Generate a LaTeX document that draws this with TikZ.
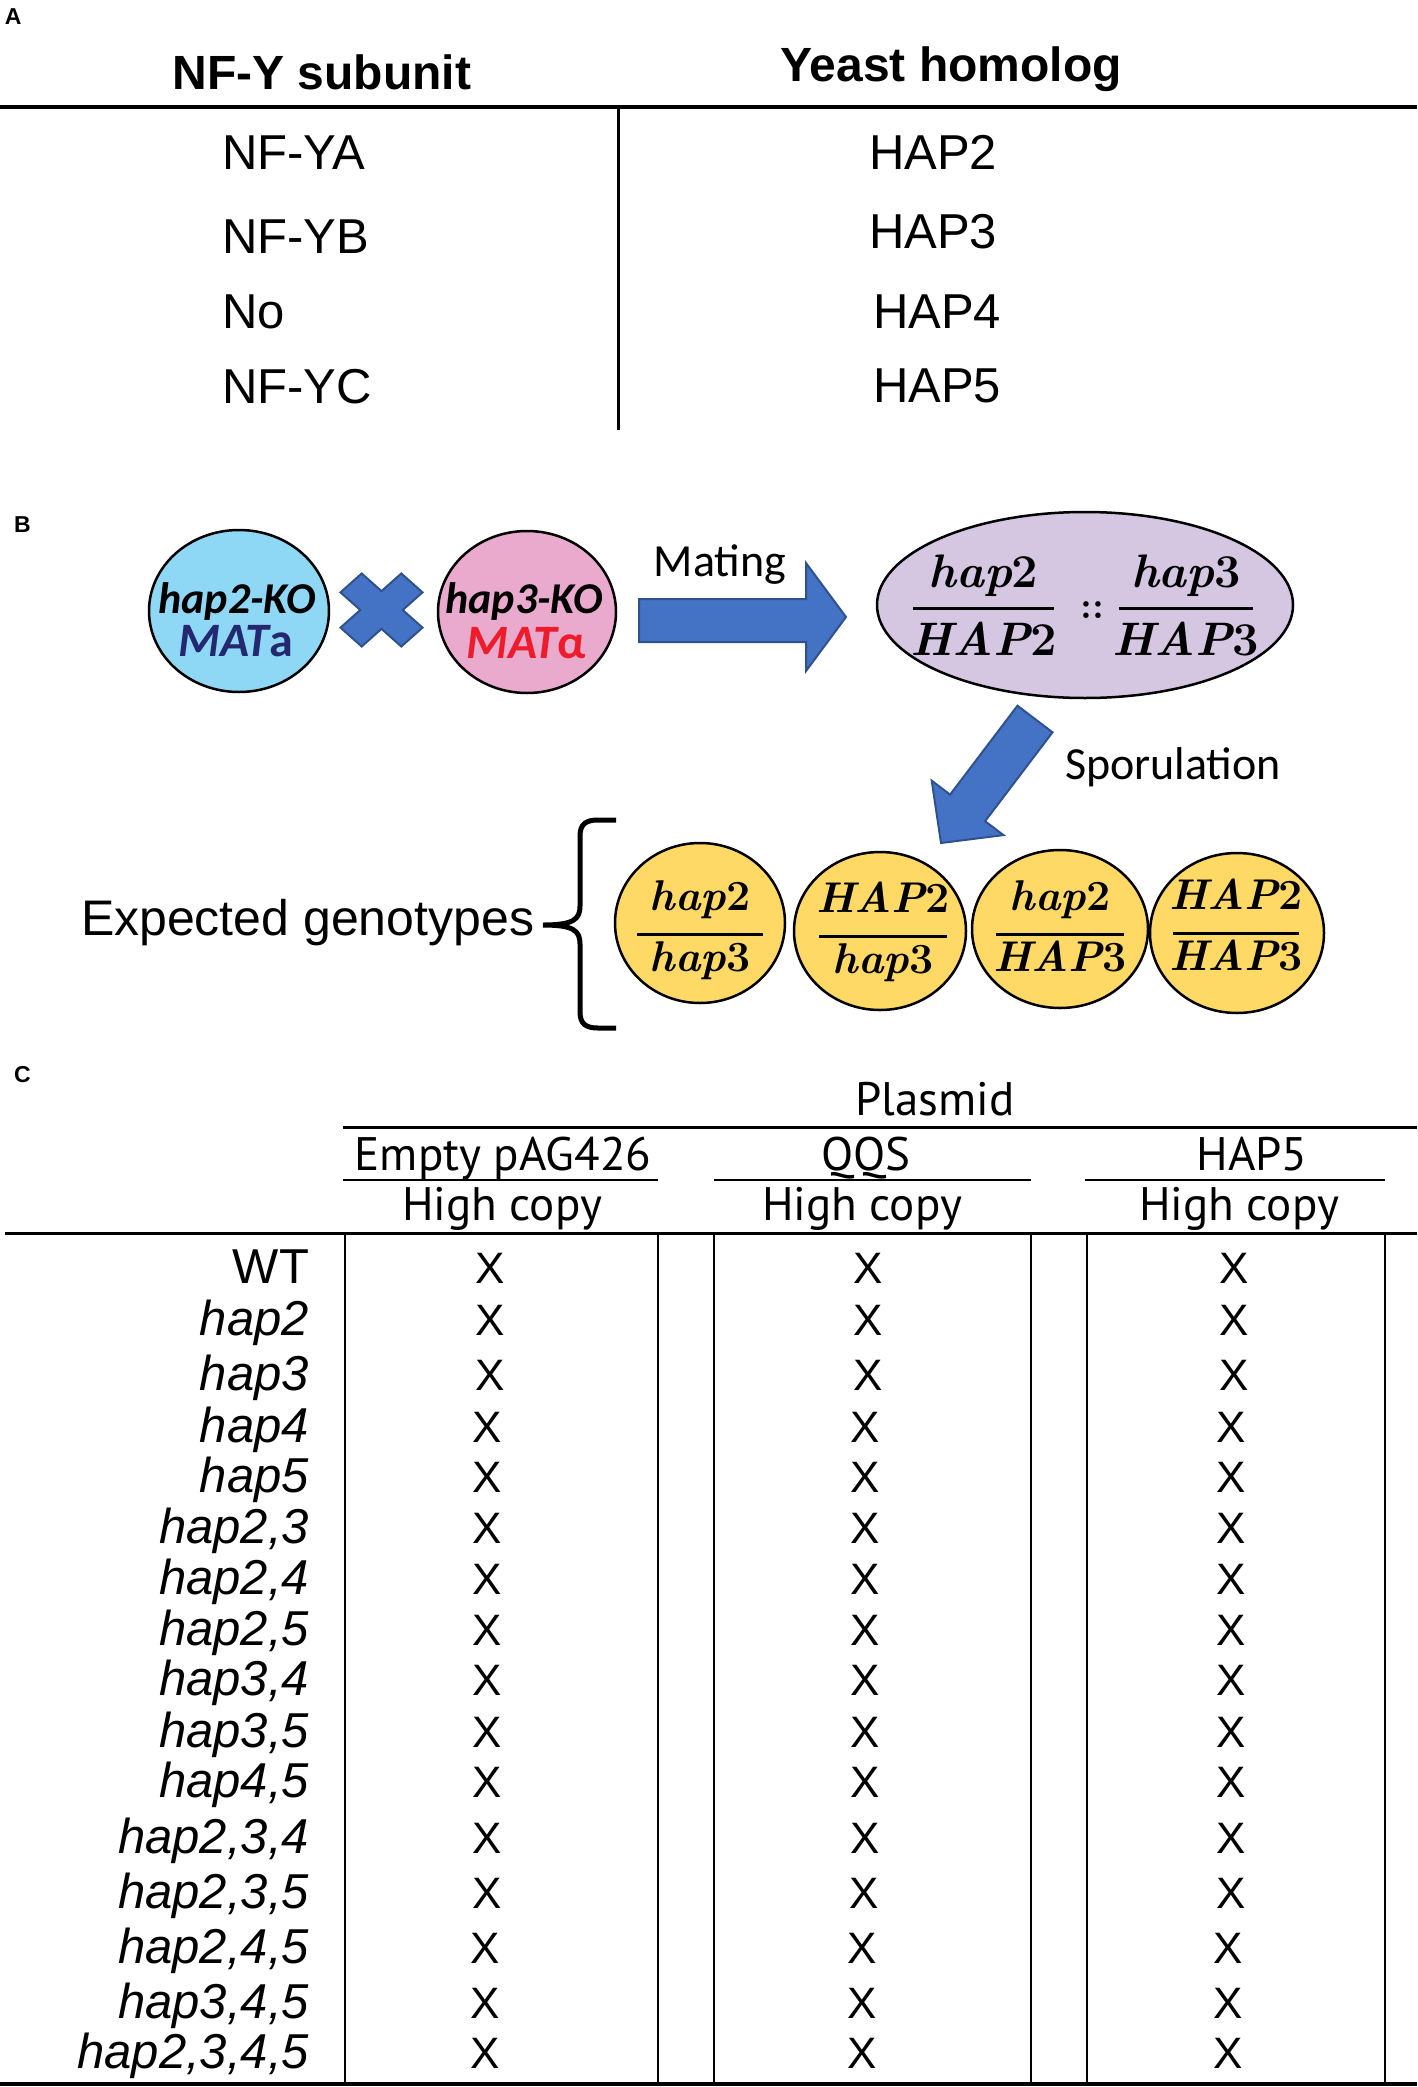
\documentclass[tikz,border=0pt]{standalone}
\usepackage{fontspec}
\setmainfont{Liberation Sans}
\newfontfamily\calfont{Carlito}
\newfontfamily\lmfont{Latin Modern Roman}
\newfontfamily\ptfont{PT Sans}
\usetikzlibrary{shapes.geometric}
\definecolor{cblue}{HTML}{8FD8F5}
\definecolor{cpink}{HTML}{EAAACE}
\definecolor{clav}{HTML}{D5C6E1}
\definecolor{cyel}{HTML}{FFD966}
\definecolor{arrfill}{HTML}{4472C4}
\definecolor{arrline}{HTML}{2F528F}
\definecolor{matred}{HTML}{EE1C2A}
\definecolor{matnavy}{HTML}{232870}
\newcommand{\fsz}[1]{\fontsize{#1}{#1}\selectfont}
\newcommand{\gen}[2]{{\lmfont\bfseries\itshape #1\upshape #2}}
% name, x, yline, halfwidth, num, den, size, numoffset, denoffset
\newcommand{\gfrac}[9]{%
  \node[txt, font=\fsz{#7}] (#1n) at ({#2},{#3-#8}) {#5};
  \draw[line width=3pt] ({#2-#4},{#3}) coordinate (#1l) -- ({#2+#4},{#3}) coordinate (#1r);
  \node[txt, font=\fsz{#7}] (#1d) at ({#2},{#3+#9}) {#6};
}
\newcommand{\crow}[6]{%
  \node[rowl] (r#1) at (309,#3) {#2};
  \node[xm] (r#1a) at (#4,#3) {X};
  \node[xm] (r#1b) at (#5,#3) {X};
  \node[xm] (r#1c) at (#6,#3) {X};
}
\begin{document}
\begin{tikzpicture}[x=1pt,y=-1pt,
  txt/.style={inner sep=0pt, outer sep=0pt, anchor=base},
  hdr/.style={txt, font=\bfseries\fsz{48}},
  cellA/.style={txt, anchor=base west, font=\fsz{49}},
  plabel/.style={txt, anchor=base west, font=\bfseries\fsz{23}},
  cell/.style={ellipse, draw=black, line width=2.5pt, inner sep=0pt},
  blockarr/.style={fill=arrfill, draw=arrline, line width=2pt, line join=miter},
  kotxt/.style={txt, font=\calfont\bfseries\itshape\fsz{44}},
  mattxt/.style={txt, font=\calfont\bfseries\itshape\fsz{48}},
  captxt/.style={txt, font=\calfont\fsz{46}},
  hcol/.style={txt, font=\ptfont\fsz{47}},
  rowl/.style={txt, anchor=base east, font=\itshape\fsz{49}},
  xm/.style={txt, font=\fsz{44}},
]
\useasboundingbox (0,0) rectangle (1417,2087);

% ---------------- Panel A ----------------
\node[plabel] (labA) at (5,25) {A};
\node[hdr] (hA1) at (322,90) {NF-Y subunit};
\node[hdr] (hA2) at (951,82) {Yeast homolog};
\draw[line width=4pt] (0,107) coordinate (tl) -- (1417,107) coordinate (tr);
\draw[line width=3pt] (618,107) coordinate (vt) -- (618,430) coordinate (vb);
\node[cellA] (a1) at (222,170) {NF-YA};
\node[cellA] (a2) at (222,253) {NF-YB};
\node[cellA] (a3) at (222,328) {No};
\node[cellA] (a4) at (222,403) {NF-YC};
\node[cellA] (b1) at (869,170) {HAP2};
\node[cellA] (b2) at (869,248) {HAP3};
\node[cellA] (b3) at (873,328) {HAP4};
\node[cellA] (b4) at (873,402) {HAP5};

% ---------------- Panel B ----------------
\node[plabel] (labB) at (14,532) {B};
\node[cell, fill=cblue, minimum width=180pt, minimum height=162pt] (ko2) at (239,611) {};
\node[kotxt] (ko2t) at (237,613) {hap2-KO};
\node[mattxt, text=matnavy] (ko2m) at (236,656) {MAT\upshape a};
\node[cell, fill=cpink, minimum width=178pt, minimum height=162pt] (ko3) at (527,612) {};
\node[kotxt] (ko3t) at (524,613) {hap3-KO};
\node[mattxt, text=matred] (ko3m) at (526,658) {MAT\upshape α};
\begin{scope}[shift={(381.5,610)}, yscale=0.89, rotate=45]
  \draw[blockarr] (15,15) -- (43,15) -- (43,-15) -- (15,-15) -- (15,-43) -- (-15,-43)
    -- (-15,-15) -- (-43,-15) -- (-43,15) -- (-15,15) -- (-15,43) -- (15,43) -- cycle;
\end{scope}
\node[captxt] (mating) at (720,576) {Mating};
\draw[blockarr] (639,599) -- (806,599) -- (806,563) -- (846,617) -- (806,671) -- (806,642) -- (639,642) -- cycle;

\node[cell, fill=clav, minimum width=416pt, minimum height=186pt] (dip) at (1085,605) {};
\gfrac{fa}{983.5}{608}{70.5}{\gen{hap}{2}}{\gen{HAP}{2}}{47}{21}{47}
\gfrac{fb}{1186}{608}{67}{\gen{hap}{3}}{\gen{HAP}{3}}{47}{21}{47}
\node[inner sep=0pt, font=\lmfont\bfseries\fsz{38}] (dots) at (1092,610) {::};

\draw[blockarr] (1017.5,705.7) -- (950.1,794.6) -- (931.7,780.7) -- (941,843) -- (1003.5,835.1) -- (985.1,821.2) -- (1052.5,732.3) -- cycle;
\node[captxt] (spor) at (1173,779) {Sporulation};

\node[txt, anchor=base west, font=\fsz{50}] (expg) at (81,935) {Expected genotypes};
\draw[line width=5pt] (616,820) -- (598,820) .. controls (586,820) and (580,824) .. (580,836)
  -- (580,906) .. controls (580,919) and (574,925) .. (543,925)
  .. controls (574,925) and (580,931) .. (580,944)
  -- (580,1012) .. controls (580,1024) and (586,1028) .. (598,1028) -- (616,1028);

\node[cell, fill=cyel, minimum width=170pt, minimum height=160pt] (g1) at (700,923) {};
\node[cell, fill=cyel, minimum width=172pt, minimum height=158pt] (g2) at (880,931) {};
\node[cell, fill=cyel, minimum width=176pt, minimum height=158pt] (g3) at (1060,929) {};
\node[cell, fill=cyel, minimum width=174pt, minimum height=160pt] (g4) at (1237,933) {};
\gfrac{ga}{700}{934}{63}{\gen{hap}{2}}{\gen{hap}{3}}{43}{24}{37}
\gfrac{gb}{883}{936}{64}{\gen{HAP}{2}}{\gen{hap}{3}}{43}{24}{37}
\gfrac{gc}{1060}{934}{64}{\gen{hap}{2}}{\gen{HAP}{3}}{43}{24}{37}
\gfrac{gd}{1236}{933}{63}{\gen{HAP}{2}}{\gen{HAP}{3}}{43}{24}{37}

% ---------------- Panel C ----------------
\node[plabel] (labC) at (14,1082) {C};
\node[hcol] (plas) at (935,1115) {Plasmid};
\draw[line width=3pt] (343,1127) coordinate (pl) -- (1417,1127) coordinate (pr);
\node[hcol] (c1h) at (503,1170) {Empty pAG426};
\node[hcol] (c2h) at (866,1170) {QQS};
\node[hcol] (c3h) at (1252,1170) {HAP5};
\draw[line width=2.5pt] (343,1180) -- (658,1180);
\draw[line width=2.5pt] (714,1180) -- (1031,1180);
\draw[line width=2.5pt] (1085,1180) -- (1385,1180);
\node[hcol] (c1c) at (502,1220) {High copy};
\node[hcol] (c2c) at (862,1220) {High copy};
\node[hcol] (c3c) at (1239,1220) {High copy};
\draw[line width=3pt] (5,1233) -- (1417,1233);
\foreach \xx in {345,658,714,1031,1087,1385}
  \draw[line width=2pt] (\xx,1233) -- (\xx,2084);
\draw[line width=4pt] (0,2084) -- (1417,2084);

\crow{1}{\upshape WT}{1283}{490}{868}{1234}
\crow{2}{hap2}{1335}{490}{868}{1234}
\crow{3}{hap3}{1390}{490}{868}{1234}
\crow{4}{hap4}{1442}{487}{865}{1231}
\crow{5}{hap5}{1492}{487}{865}{1231}
\crow{6}{hap2,3}{1543}{487}{865}{1231}
\crow{7}{hap2,4}{1594}{487}{865}{1231}
\crow{8}{hap2,5}{1645}{487}{865}{1231}
\crow{9}{hap3,4}{1695}{487}{865}{1231}
\crow{10}{hap3,5}{1747}{487}{865}{1231}
\crow{11}{hap4,5}{1797}{487}{865}{1231}
\crow{12}{hap2,3,4}{1853}{487}{865}{1231}
\crow{13}{hap2,3,5}{1908}{487}{864}{1231}
\crow{14}{hap2,4,5}{1963}{485}{862}{1228}
\crow{15}{hap3,4,5}{2018}{485}{862}{1228}
\crow{16}{hap2,3,4,5}{2068}{485}{862}{1228}
\end{tikzpicture}
\end{document}
